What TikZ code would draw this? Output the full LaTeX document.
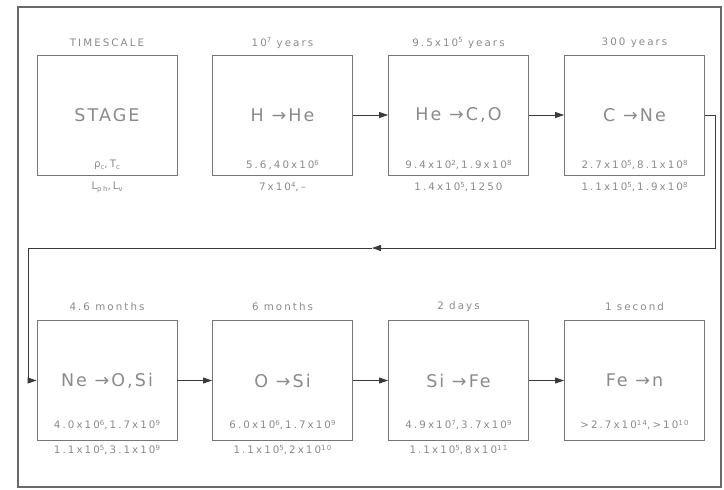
\documentclass[tikz,border=0pt]{standalone}
\usepackage{fontspec}
\usetikzlibrary{arrows.meta}
\newfontfamily\cfont[LetterSpace=12]{DejaVu Sans}
\newfontfamily\sfont[LetterSpace=20]{DejaVu Sans}
\newcommand\myup[1]{\raisebox{0.6ex}{\fontsize{7}{7}\selectfont #1}}
\newcommand\mydn[1]{\raisebox{-0.35ex}{\fontsize{7}{7}\selectfont #1}}
\definecolor{txt}{HTML}{8A8A8A}
\definecolor{boxc}{HTML}{767676}
\definecolor{conc}{HTML}{3A3A3A}
\definecolor{framec}{HTML}{6A6A6A}
\tikzset{
  stagebox/.style={draw=boxc, line width=0.9pt, minimum width=140pt, minimum height=120pt, inner sep=0pt,
    text=txt, font=\cfont\fontsize{17.5}{17.5}\selectfont},
  small/.style={text=txt, inner sep=0pt, font=\sfont\fontsize{10.3}{10.3}\selectfont},
  conn/.style={draw=conc, line width=0.9pt},
  tip/.style={-{Triangle[length=9pt,width=6pt]}}
}
\begin{document}
\begin{tikzpicture}[x=1pt,y=-1pt]
\useasboundingbox (0,0) rectangle (724,490);
\draw[framec, line width=2pt] (18,7) rectangle (721,487);
% row 1
\node[stagebox] (b1) at (107,115) {STAGE};
\node[stagebox] (b2) at (282.5,115) {H →He};
\node[stagebox] (b3) at (458.5,115) {He →C,O};
\node[stagebox] (b4) at (634.5,115) {C →Ne};
% row 2
\node[stagebox] (b5) at (107,380.5) {Ne →O,Si};
\node[stagebox] (b6) at (282.5,380.5) {O →Si};
\node[stagebox] (b7) at (458.5,380.5) {Si →Fe};
\node[stagebox] (b8) at (634.5,380.5) {Fe →n};
% timescales
\node[small] (t1) at (107,43) {TIMESCALE};
\node[small] (t2) at (282.5,43) {10\myup{7} years};
\node[small] (t3) at (458.5,43) {9.5x10\myup{5} years};
\node[small] (t4) at (634.5,43) {300 years};
\node[small] (t5) at (107,307) {4.6 months};
\node[small] (t6) at (282.5,307) {6 months};
\node[small] (t7) at (458.5,307) {2 days};
\node[small] (t8) at (634.5,307) {1 second};
% density, temperature
\node[small] (d1) at (107,165) {ρ\mydn{c},T\mydn{c}};
\node[small] (d2) at (282.5,165) {5.6,40x10\myup{6}};
\node[small] (d3) at (458.5,165) {9.4x10\myup{2},1.9x10\myup{8}};
\node[small] (d4) at (634.5,165) {2.7x10\myup{5},8.1x10\myup{8}};
\node[small] (d5) at (107,425) {4.0x10\myup{6},1.7x10\myup{9}};
\node[small] (d6) at (282.5,425) {6.0x10\myup{6},1.7x10\myup{9}};
\node[small] (d7) at (458.5,425) {4.9x10\myup{7},3.7x10\myup{9}};
\node[small] (d8) at (634.5,425) {>2.7x10\myup{14},>10\myup{10}};
% luminosities
\node[small] (l1) at (107,187) {L\mydn{ph},L\mydn{ν}};
\node[small] (l2) at (282.5,187) {7x10\myup{4},–};
\node[small] (l3) at (458.5,187) {1.4x10\myup{5},1250};
\node[small] (l4) at (634.5,187) {1.1x10\myup{5},1.9x10\myup{8}};
\node[small] (l5) at (107,450) {1.1x10\myup{5},3.1x10\myup{9}};
\node[small] (l6) at (282.5,450) {1.1x10\myup{5},2x10\myup{10}};
\node[small] (l7) at (458.5,450) {1.1x10\myup{5},8x10\myup{11}};
% connectors
\draw[conn,tip] (b2.east) -- (b3.west);
\draw[conn,tip] (b3.east) -- (b4.west);
\draw[conn,tip] (b5.east) -- (b6.west);
\draw[conn,tip] (b6.east) -- (b7.west);
\draw[conn,tip] (b7.east) -- (b8.west);
\coordinate (r1) at (715,115);
\coordinate (r2) at (715,248);
\coordinate (am) at (372,248);
\coordinate (q1) at (28,248);
\coordinate (q2) at (28,380.5);
\draw[conn,tip] (b4.east) -- (r1) -- (r2) -- (am);
\draw[conn,tip] (am) -- (q1) -- (q2) -- (b5.west);
\end{tikzpicture}
\end{document}
